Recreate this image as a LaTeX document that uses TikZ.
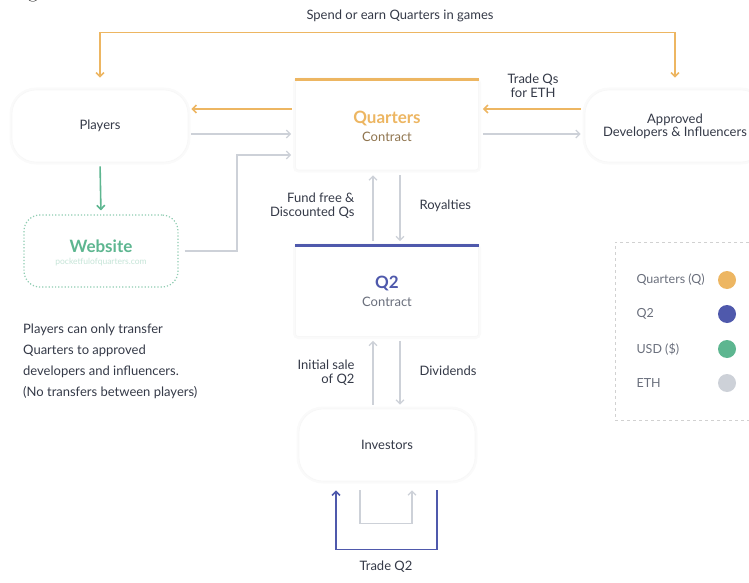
\documentclass[tikz,border=0pt]{standalone}
\usepackage{fontspec}
\setmainfont{Lato}
\usetikzlibrary{arrows.meta,calc}
\definecolor{qorange}{HTML}{EDB662}
\definecolor{qblue}{HTML}{4F59AC}
\definecolor{qgreen}{HTML}{5DB690}
\definecolor{qgrey}{HTML}{CDD1D8}
\definecolor{qtext}{HTML}{343947}
\definecolor{qbrown}{HTML}{8F744E}
\definecolor{qlegend}{HTML}{6A6F7C}
\tikzset{
  every node/.style={text=qtext, font=\fontsize{13}{15}\selectfont},
  softbox/.style={draw=black!3, line width=0.6pt, fill=white,
     preaction={draw=black!2, line width=5pt},
     rounded corners=#1, inner sep=0pt},
  softbox/.default=3pt,
  tip/.style={-{Straight Barb[length=4pt,width=8pt]}},
  tips/.style={{Straight Barb[length=4pt,width=8pt]}-{Straight Barb[length=4pt,width=8pt]}},
  oline/.style={draw=qorange, line width=1.6pt},
  gline/.style={draw=qgrey, line width=1.3pt},
  bline/.style={draw=qblue, line width=1.6pt},
  grline/.style={draw=qgreen, line width=1.6pt},
  title/.style={font=\fontsize{17}{19}\bfseries\selectfont},
  dot/.style={circle, minimum size=18pt, inner sep=0pt},
  legtext/.style={anchor=west, text=qlegend, font=\fontsize{12.5}{14}\selectfont}
}
\begin{document}
\begin{tikzpicture}[x=1pt,y=-1pt]
\useasboundingbox (0,0) rectangle (749,583);
% stray glyph at top-left
\node[anchor=base, text=black, font=\fontfamily{lmr}\fontsize{22}{24}\selectfont, inner sep=0pt] (g) at (33,-2) {g};

% boxes
\node[softbox=24pt, minimum width=176pt, minimum height=72pt] (P) at (100,126) {Players};
\node[softbox, minimum width=183pt, minimum height=90pt] (Q) at (387,125) {};
\node[title, text=qorange] (Qt) at (387,118) {Quarters};
\node[text=qbrown] (Qs) at (387,137) {Contract};
\node[softbox=24pt, minimum width=180pt, minimum height=72pt, align=center] (A) at (675,126) {Approved\\[-2pt]Developers \& Influencers};
\node[draw=qgreen!70, dotted, line width=1.2pt, rounded corners=16pt, fill=white, minimum width=154pt, minimum height=72pt] (W) at (101,251) {};
\node[title, text=qgreen] (Wt) at (101,246) {Website};
\node[text=qgreen!35, font=\fontsize{8.5}{10}\selectfont] (Ws) at (101,262) {pocketfulofquarters.com};
\node[softbox, minimum width=183pt, minimum height=91pt] (Q2) at (387,291) {};
\node[title, text=qblue] (Q2t) at (387,283) {Q2};
\node[text=qlegend] (Q2s) at (387,302) {Contract};
\node[softbox=24pt, minimum width=176pt, minimum height=72pt] (I) at (387,445) {Investors};

% top bars
\draw[draw=qorange, line width=3pt] (Q.north west) -- (Q.north east);
\draw[draw=qblue, line width=3pt] (Q2.north west) -- (Q2.north east);

% note
\node[anchor=north west, align=left, font=\fontsize{13}{21}\selectfont, inner sep=0pt] (note) at (23,324)
 {Players can only transfer\\Quarters to approved\\developers and influencers.\\(No transfers between players)};

% top loop
\draw[oline, tips] ([yshift=12pt]P.north) |- ([yshift=57pt]A.north) coordinate (tr) -- ([yshift=12pt]A.north);
\node (spend) at (400,16) {Spend or earn Quarters in games};

% Quarters <-> Players
\draw[oline, tip, shorten <=3pt, shorten >=3pt] ([yshift=16pt]Q.west) -- ([yshift=17pt,xshift=0pt]P.east);
\draw[gline, tip, shorten <=3pt, shorten >=4pt] ([yshift=-8pt]P.east) -- ([yshift=-9pt]Q.west);
% Website -> Quarters
\coordinate (wc) at (237,200);
\draw[gline, tip, shorten <=6pt, shorten >=4pt] (W.east) -| (wc) |- ([yshift=-30pt]Q.west);
% Players -> Website
\draw[grline, tip, shorten <=4pt, shorten >=4pt] (P.south) -- (W.north);
% Approved <-> Quarters
\draw[oline, tip, shorten <=4pt, shorten >=4pt] ([yshift=17pt]A.west) -- ([yshift=16pt]Q.east);
\draw[gline, tip, shorten <=4pt, shorten >=4pt] ([yshift=-9pt]Q.east) -- ([yshift=-8pt]A.west);
\node[align=center] (trade) at (533,86) {Trade Qs\\[-1pt]for ETH};

% Quarters <-> Q2
\draw[gline, tip, shorten <=4pt, shorten >=5pt] ([xshift=-14pt]Q2.north) -- ([xshift=-14pt]Q.south);
\draw[gline, tip, shorten <=5pt, shorten >=4pt] ([xshift=13pt]Q.south) -- ([xshift=13pt]Q2.north);
\node[anchor=east, align=right] (fund) at (358,206) {Fund free \&\\[-1pt]Discounted Qs};
\node[anchor=west] (roy) at (416,206) {Royalties};

% Q2 <-> Investors
\draw[gline, tip, shorten <=4pt, shorten >=4pt] ([xshift=-14pt]I.north) -- ([xshift=-14pt]Q2.south);
\draw[gline, tip, shorten <=4pt, shorten >=4pt] ([xshift=13pt]Q2.south) -- ([xshift=13pt]I.north);
\node[anchor=east, align=right] (init) at (358,373) {Initial sale\\[-1pt]of Q2};
\node[anchor=west] (div) at (416,371) {Dividends};

% Investors loops
\draw[gline, tip] ([xshift=-27pt,yshift=-9pt]I.south) |- ([xshift=25pt,yshift=-42pt]I.south) -- ([xshift=25pt,yshift=-9pt]I.south);
\draw[bline, tip] ([xshift=50pt,yshift=-9pt]I.south) |- ([xshift=-51pt,yshift=-68pt]I.south) -- ([xshift=-51pt,yshift=-9pt]I.south);
\node (tq2) at (386,567) {Trade Q2};

% legend
\node[draw=black!18, dashed, line width=0.5pt, minimum width=140pt, minimum height=178pt] (L) at (685,331) {};
\node[legtext] (l1) at (633,280) {Quarters (Q)};
\node[dot, fill=qorange] (c1) at (727,280) {};
\node[legtext] (l2) at (633,314) {Q2};
\node[dot, fill=qblue] (c2) at (727,314) {};
\node[legtext] (l3) at (633,349) {USD (\$)};
\node[dot, fill=qgreen] (c3) at (727,349) {};
\node[legtext] (l4) at (633,383) {ETH};
\node[dot, fill=qgrey] (c4) at (727,383) {};
\end{tikzpicture}
\end{document}
